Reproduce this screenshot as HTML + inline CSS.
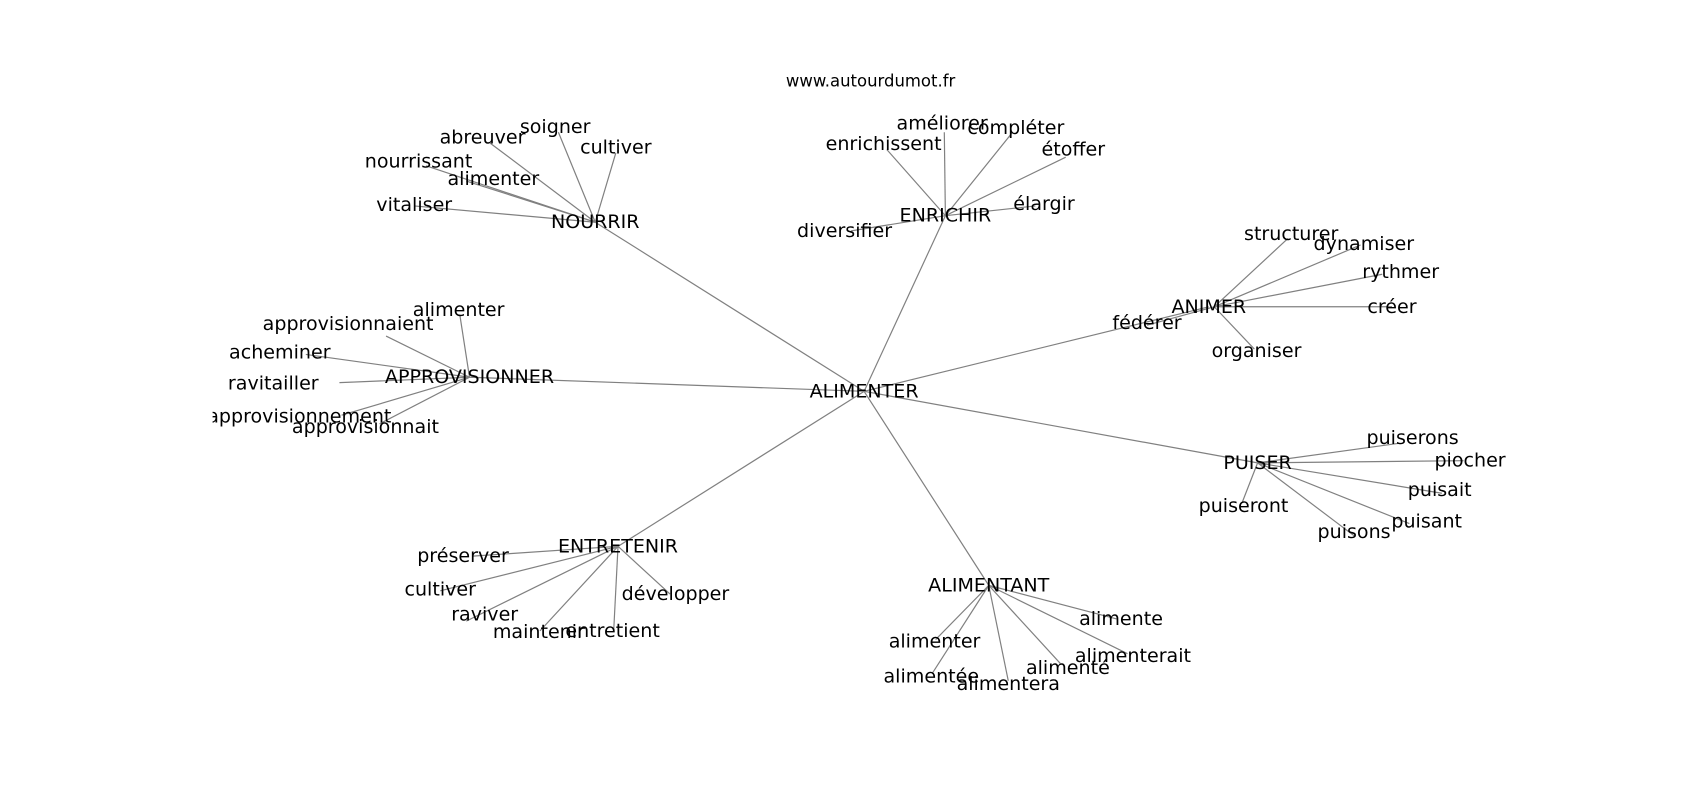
<!DOCTYPE html>
<html><head><meta charset="utf-8"><style>
html,body{margin:0;padding:0;background:#fff;}
svg{display:block;}
text{font-family:"DejaVu Sans","Liberation Sans",sans-serif;fill:#000;}
</style></head><body>
<svg width="1700" height="800" viewBox="0 0 1568 738" xmlns="http://www.w3.org/2000/svg">
<defs><clipPath id="c"><rect x="196" y="81" width="1215" height="576"/></clipPath></defs>
<text x="803" y="80" font-size="15.2" text-anchor="middle">www.autourdumot.fr</text>
<g clip-path="url(#c)">
<g stroke="#808080" stroke-width="1.1" fill="none">
<line x1="797" y1="361" x2="549" y2="205"/>
<line x1="797" y1="361" x2="872" y2="199"/>
<line x1="797" y1="361" x2="1115" y2="283"/>
<line x1="797" y1="361" x2="433" y2="348"/>
<line x1="797" y1="361" x2="1160" y2="427"/>
<line x1="797" y1="361" x2="570" y2="504"/>
<line x1="797" y1="361" x2="912" y2="540"/>
<line x1="549" y1="205" x2="515" y2="122"/>
<line x1="549" y1="205" x2="452" y2="132"/>
<line x1="549" y1="205" x2="568" y2="141"/>
<line x1="549" y1="205" x2="393" y2="153"/>
<line x1="549" y1="205" x2="430" y2="167"/>
<line x1="549" y1="205" x2="382" y2="190"/>
<line x1="872" y1="199" x2="871" y2="122"/>
<line x1="872" y1="199" x2="934" y2="122"/>
<line x1="872" y1="199" x2="818" y2="138"/>
<line x1="872" y1="199" x2="983" y2="145"/>
<line x1="872" y1="199" x2="955" y2="190"/>
<line x1="872" y1="199" x2="785" y2="213"/>
<line x1="1120" y1="283" x2="1188" y2="220"/>
<line x1="1120" y1="283" x2="1255" y2="226"/>
<line x1="1120" y1="283" x2="1275" y2="253"/>
<line x1="1120" y1="283" x2="1284" y2="283"/>
<line x1="1120" y1="283" x2="1058" y2="300"/>
<line x1="1120" y1="283" x2="1157" y2="322"/>
<line x1="433" y1="348" x2="424" y2="290"/>
<line x1="433" y1="348" x2="356" y2="310"/>
<line x1="433" y1="348" x2="282" y2="327"/>
<line x1="433" y1="348" x2="313" y2="353"/>
<line x1="433" y1="348" x2="315" y2="383"/>
<line x1="433" y1="348" x2="350" y2="391"/>
<line x1="1160" y1="427" x2="1290" y2="409"/>
<line x1="1160" y1="427" x2="1350" y2="425"/>
<line x1="1160" y1="427" x2="1330" y2="455"/>
<line x1="1160" y1="427" x2="1300" y2="483"/>
<line x1="1160" y1="427" x2="1250" y2="495"/>
<line x1="1160" y1="427" x2="1146" y2="463"/>
<line x1="570" y1="504" x2="436" y2="513"/>
<line x1="570" y1="504" x2="406" y2="545"/>
<line x1="570" y1="504" x2="430" y2="573"/>
<line x1="570" y1="504" x2="498" y2="582"/>
<line x1="570" y1="504" x2="566" y2="582"/>
<line x1="570" y1="504" x2="618" y2="548"/>
<line x1="912" y1="540" x2="1030" y2="571"/>
<line x1="912" y1="540" x2="863" y2="590"/>
<line x1="912" y1="540" x2="1040" y2="603"/>
<line x1="912" y1="540" x2="978" y2="612"/>
<line x1="912" y1="540" x2="860" y2="621"/>
<line x1="912" y1="540" x2="930" y2="628"/>
</g>
<g font-size="17.6" text-anchor="middle" dominant-baseline="central">
<text x="797" y="361">ALIMENTER</text>
<text x="549" y="205">NOURRIR</text>
<text x="872" y="199">ENRICHIR</text>
<text x="1115" y="283">ANIMER</text>
<text x="433" y="348">APPROVISIONNER</text>
<text x="1160" y="427">PUISER</text>
<text x="570" y="504">ENTRETENIR</text>
<text x="912" y="540">ALIMENTANT</text>

<text x="512" y="117">soigner</text>
<text x="445" y="127">abreuver</text>
<text x="568" y="136">cultiver</text>
<text x="386" y="149">nourrissant</text>
<text x="455" y="165">alimenter</text>
<text x="382" y="189">vitaliser</text>

<text x="869" y="114">améliorer</text>
<text x="937" y="118">compléter</text>
<text x="815" y="133">enrichissent</text>
<text x="990" y="138">étoffer</text>
<text x="963" y="188">élargir</text>
<text x="779" y="213">diversifier</text>

<text x="1191" y="216">structurer</text>
<text x="1258" y="225">dynamiser</text>
<text x="1292" y="251">rythmer</text>
<text x="1284" y="283">créer</text>
<text x="1058" y="298">fédérer</text>
<text x="1159" y="324">organiser</text>

<text x="423" y="286">alimenter</text>
<text x="321" y="299">approvisionnaient</text>
<text x="258" y="325">acheminer</text>
<text x="252" y="354">ravitailler</text>
<text x="276" y="384">approvisionnement</text>
<text x="337" y="394">approvisionnait</text>

<text x="1303" y="404">puiserons</text>
<text x="1356" y="425">piocher</text>
<text x="1328" y="452">puisait</text>
<text x="1316" y="481">puisant</text>
<text x="1249" y="491">puisons</text>
<text x="1147" y="467">puiseront</text>

<text x="427" y="513">préserver</text>
<text x="406" y="544">cultiver</text>
<text x="447" y="567">raviver</text>
<text x="497" y="583">maintenir</text>
<text x="565" y="582">entretient</text>
<text x="623" y="548">développer</text>

<text x="1034" y="571">alimente</text>
<text x="862" y="592">alimenter</text>
<text x="1045" y="605">alimenterait</text>
<text x="985" y="616">alimenté</text>
<text x="859" y="624">alimentée</text>
<text x="930" y="631">alimentera</text>
</g>
</g>
</svg>
</body></html>
